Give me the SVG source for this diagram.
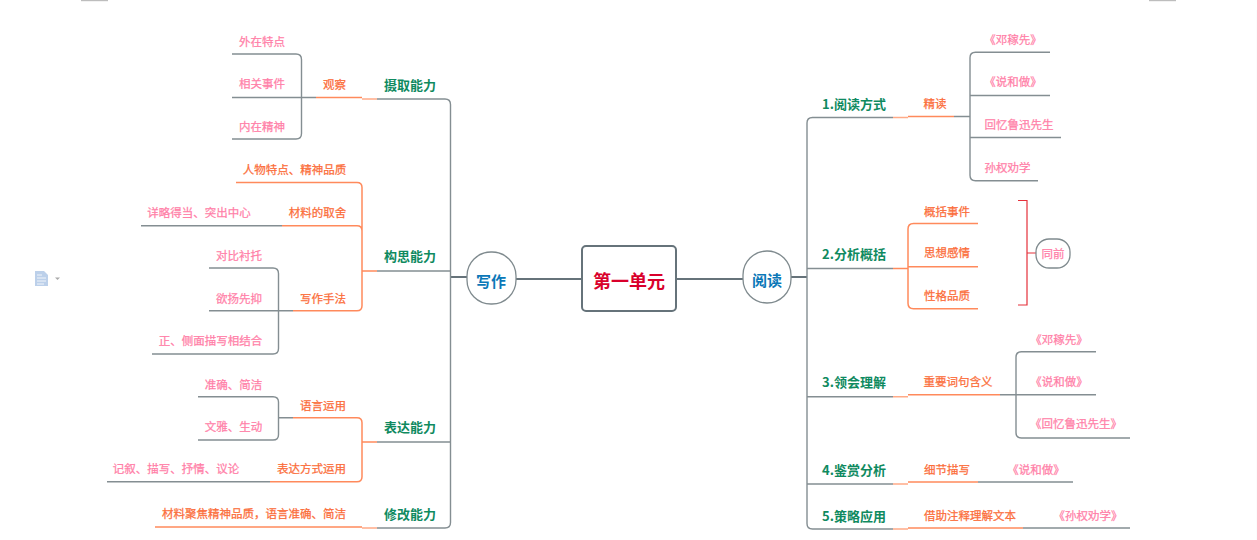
<svg xmlns="http://www.w3.org/2000/svg" width="1257" height="540" viewBox="0 0 1257 540">
<style>
text{font-family:"Noto Sans CJK SC","Noto Sans",sans-serif;text-anchor:middle;dominant-baseline:central}
.p{font-size:11.5px;fill:#ff7fa8;stroke:#ff7fa8;stroke-width:.25}
.o{font-size:11.5px;fill:#fb6d3a;stroke:#fb6d3a;stroke-width:.25}
.g{font-size:13px;font-weight:700;fill:#0f8a5f}
.b{font-size:15px;font-weight:700;fill:#0b78b8}
.t{font-size:18px;font-weight:700;fill:#d9002b}
.l{fill:none;stroke:#848e92;stroke-width:1.4}
.d{fill:none;stroke:#66737a;stroke-width:2}
.f{fill:none;stroke:#ff8a5c;stroke-width:1.5}
.s{fill:none;stroke:#ffab88;stroke-width:1.5}
.r{fill:none;stroke:#e5303a;stroke-width:1.2}
.n{fill:#fff;stroke:#7f8a8e;stroke-width:1.3}
</style>
<rect x="1138" y="10" width="119" height="530" fill="#fcfcfc"/>
<rect x="1138" y="10" width="118" height="530" fill="#fff"/>
<rect x="81" y="0" width="27" height="1.2" fill="#bdbdbd"/>
<rect x="1149" y="0" width="27" height="1.2" fill="#bdbdbd"/>
<g id="page-icon"><path d="M35 271H44L48 275V286H35Z" fill="#bcd0ea"/><path d="M37 275H42M37 278H46M37 281H46M37 284H44" stroke="#fff" stroke-width="0.8" fill="none"/><path d="M55 277.500H60L57.500 280Z" fill="#aaa"/></g>

<g id="connectors">
<path class="d" d="M516 279H582M676 279H743M791 277H807M451 277H467"/>
<path class="l" d="M377 99H445Q450.500 99 450.500 104.500V522.500Q450.500 528 445 528H377M377 271H450.500M377 442H450.500"/>
<path class="s" d="M362 99H377M362 528H377"/>
<path class="f" d="M362 271H377M362 442H377"/>
<path class="f" d="M316 97.500H362M155 527H362"/>
<path class="l" d="M232 54H296Q301.500 54 301.500 59.500V133.500Q301.500 139 296 139H232M232 97.500H316"/>
<path class="f" d="M236 182.500H357Q362 182.500 362 187.500V305.700Q362 310.700 357 310.700H293M282 225.700H357Q362 225.700 362 230.700"/>
<path class="l" d="M141 225.700H282M209 310.700H293"/>
<path class="l" d="M209 268H273Q278.500 268 278.500 273.500V348.500Q278.500 354 273 354H152"/>
<path class="f" d="M293 417.700H357Q362 417.700 362 422.700V476.700Q362 481.700 357 481.700H270"/>
<path class="l" d="M107 481.700H270M278 417.700H293"/>
<path class="l" d="M198 396.700H273Q278.500 396.700 278.500 402V434.700Q278.500 440 273 440H198"/>
<path class="l" d="M893 117.500H812.500Q807 117.500 807 123V523.500Q807 529 812.500 529H893M807 268.500H893M807 396.700H893M807 484H893"/>
<path class="s" d="M893 117.500H908M893 396.700H908M893 484H908M893 529H908"/>
<path class="f" d="M893 268.500H908M908 116.500H954M908 394.700H1000M908 482H978M908 528H1023"/>
<path class="l" d="M954 116.500H970M1000 394.700H1016M978 482H1073M1023 528H1130"/>
<path class="l" d="M1050 52.300H975.500Q970 52.300 970 57.800V175.200Q970 180.700 975.500 180.700H1038M970 95.500H1050M970 137.500H1061"/>
<path class="f" d="M978 223.500H913.500Q908 223.500 908 229V303.200Q908 308.700 913.500 308.700H978M908 266.700H978"/>
<path class="r" d="M1018 200.500H1027V305H1018M1027 253H1036"/>
<path class="l" d="M1096 351.700H1021.500Q1016 351.700 1016 357.200V432.500Q1016 438 1021.500 438H1130M1016 394.700H1096"/>
</g>

<g id="root"><rect x="582" y="246" width="94" height="65" rx="4" fill="#fff" stroke="#66737a" stroke-width="2"/><text class="t" x="629" y="280">第一单元</text></g>
<g id="writing"><rect class="n" x="467" y="252" width="49" height="52" rx="24"/><text class="b" x="491" y="280">写作</text></g>
<g id="reading"><rect class="n" x="743" y="251" width="48" height="52" rx="24"/><text class="b" x="767" y="279">阅读</text></g>

<g id="w1"><text class="g" x="410" y="84">摄取能力</text></g>
<g id="w1-1"><text class="o" x="334.500" y="84">观察</text></g>
<g id="w1-1-1"><text class="p" x="262" y="41">外在特点</text></g>
<g id="w1-1-2"><text class="p" x="262" y="83">相关事件</text></g>
<g id="w1-1-3"><text class="p" x="262" y="126">内在精神</text></g>
<g id="w2"><text class="g" x="410" y="255">构思能力</text></g>
<g id="w2-1"><text class="o" x="294.500" y="169">人物特点、精神品质</text></g>
<g id="w2-2"><text class="o" x="317.500" y="212">材料的取舍</text></g>
<g id="w2-2-1"><text class="p" x="199" y="212">详略得当、突出中心</text></g>
<g id="w2-3"><text class="o" x="323" y="298">写作手法</text></g>
<g id="w2-3-1"><text class="p" x="239" y="255">对比衬托</text></g>
<g id="w2-3-2"><text class="p" x="239" y="298">欲扬先抑</text></g>
<g id="w2-3-3"><text class="p" x="210.500" y="340">正、侧面描写相结合</text></g>
<g id="w3"><text class="g" x="410" y="426">表达能力</text></g>
<g id="w3-1"><text class="o" x="323" y="405">语言运用</text></g>
<g id="w3-1-1"><text class="p" x="233.500" y="384">准确、简洁</text></g>
<g id="w3-1-2"><text class="p" x="233.500" y="426">文雅、生动</text></g>
<g id="w3-2"><text class="o" x="311.500" y="468">表达方式运用</text></g>
<g id="w3-2-1"><text class="p" x="176" y="468">记叙、描写、抒情、议论</text></g>
<g id="w4"><text class="g" x="410" y="513">修改能力</text></g>
<g id="w4-1"><text class="o" x="254" y="513">材料聚焦精神品质，语言准确、简洁</text></g>

<g id="r1"><text class="g" x="854" y="103">1.阅读方式</text></g>
<g id="r1-1"><text class="o" x="935" y="103">精读</text></g>
<g id="r1-1-1"><text class="p" x="1013" y="39">《邓稼先》</text></g>
<g id="r1-1-2"><text class="p" x="1013" y="81">《说和做》</text></g>
<g id="r1-1-3"><text class="p" x="1019" y="124">回忆鲁迅先生</text></g>
<g id="r1-1-4"><text class="p" x="1007.500" y="167">孙权劝学</text></g>
<g id="r2"><text class="g" x="854" y="253">2.分析概括</text></g>
<g id="r2-1"><text class="o" x="947" y="211">概括事件</text></g>
<g id="r2-2"><text class="o" x="947" y="252">思想感情</text></g>
<g id="r2-3"><text class="o" x="947" y="295">性格品质</text></g>
<g id="same"><rect class="n" x="1036" y="239" width="34" height="29" rx="13"/><text class="p" x="1053" y="253">同前</text></g>
<g id="r3"><text class="g" x="854" y="381">3.领会理解</text></g>
<g id="r3-1"><text class="o" x="958" y="381">重要词句含义</text></g>
<g id="r3-1-1"><text class="p" x="1059" y="339">《邓稼先》</text></g>
<g id="r3-1-2"><text class="p" x="1059" y="381">《说和做》</text></g>
<g id="r3-1-3"><text class="p" x="1076" y="423">《回忆鲁迅先生》</text></g>
<g id="r4"><text class="g" x="854" y="469">4.鉴赏分析</text></g>
<g id="r4-1"><text class="o" x="947" y="469">细节描写</text></g>
<g id="r4-1-1"><text class="p" x="1036" y="469">《说和做》</text></g>
<g id="r5"><text class="g" x="854" y="515">5.策略应用</text></g>
<g id="r5-1"><text class="o" x="970" y="515">借助注释理解文本</text></g>
<g id="r5-1-1"><text class="p" x="1088" y="515">《孙权劝学》</text></g>
</svg>
